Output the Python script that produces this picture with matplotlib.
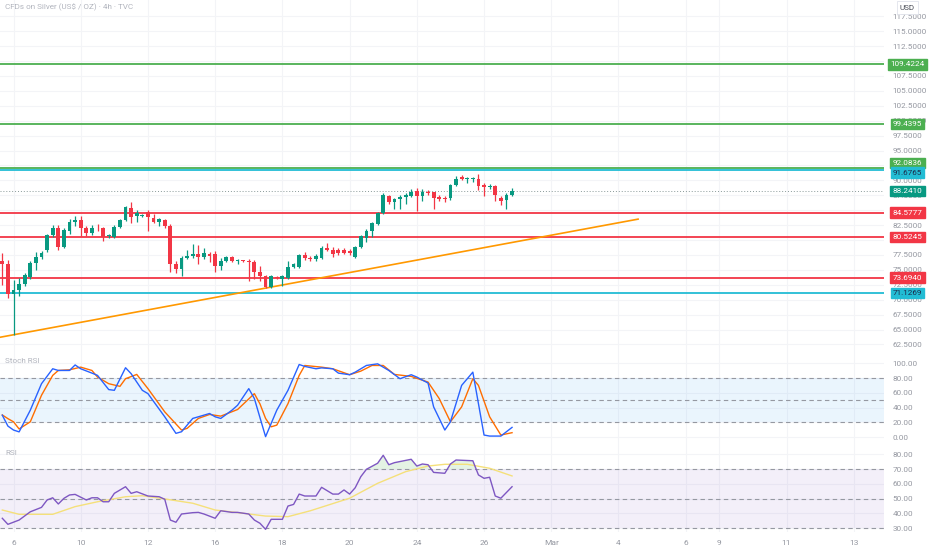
import matplotlib
matplotlib.use("Agg")
import matplotlib.pyplot as plt
import numpy as np

# 4h candles, bar index 0 = first visible bar
opens = [76.4, 76.0, 70.9, 71.6, 72.6, 73.8, 76.1, 77.2, 78.3, 80.8,
         82.0, 78.9, 81.5, 83.0, 83.3, 82.0, 81.2, 82.2, 82.0, 80.6,
         80.5, 82.2, 83.4, 85.4, 84.1, 84.1, 84.7, 83.7, 83.0, 83.3,
         82.4, 76.0, 75.2, 77.0, 77.3, 77.6, 77.2, 77.7, 77.7, 75.6,
         76.5, 77.1, 76.5, 76.6, 76.5, 76.3, 74.6, 74.0, 72.2, 73.8,
         73.4, 73.6, 75.5, 75.5, 77.5, 77.0, 76.8, 77.0, 78.7, 78.4,
         78.3, 78.3, 78.2, 77.2, 78.8, 80.3, 81.5, 82.7, 84.5, 87.4,
         86.3, 86.8, 87.2, 87.4, 88.2, 87.3, 88.0, 88.0, 87.2, 87.1,
         87.0, 89.2, 90.5, 90.3, 90.3, 90.3, 89.2, 88.9, 89.1, 87.0,
         86.7, 87.6]
highs = [77.8, 76.7, 73.3, 73.6, 74.5, 76.4, 78.0, 78.1, 81.0, 82.6,
         82.5, 82.0, 83.6, 84.0, 84.0, 82.3, 82.6, 82.7, 82.2, 81.0,
         82.6, 83.6, 85.7, 86.3, 85.0, 84.4, 85.0, 84.3, 83.7, 83.6,
         82.7, 76.5, 77.4, 78.3, 79.3, 79.1, 78.6, 78.0, 78.1, 77.0,
         77.4, 77.3, 76.9, 76.7, 76.8, 76.7, 75.6, 74.2, 74.2, 74.0,
         74.1, 76.4, 76.2, 77.7, 78.0, 77.3, 77.7, 79.0, 79.5, 78.8,
         78.7, 78.6, 78.5, 79.0, 80.9, 81.8, 83.0, 84.7, 87.8, 87.6,
         87.0, 87.5, 87.9, 88.6, 88.7, 88.5, 88.3, 88.1, 87.6, 87.3,
         89.4, 90.8, 90.9, 90.6, 90.6, 91.0, 89.6, 89.4, 89.3, 87.4,
         87.8, 88.8]
lows = [72.5, 70.3, 64.0, 70.6, 72.3, 73.4, 75.0, 76.9, 78.0, 80.5,
        78.4, 78.6, 81.0, 82.4, 80.6, 80.6, 80.9, 81.5, 79.9, 80.4,
        80.4, 82.0, 83.2, 82.9, 83.1, 83.9, 81.5, 82.8, 82.4, 82.0,
        74.7, 74.5, 74.0, 76.8, 77.0, 76.0, 76.9, 76.3, 74.6, 74.9,
        76.3, 76.3, 75.9, 76.3, 73.1, 73.4, 73.2, 71.9, 72.0, 73.4,
        72.3, 73.4, 75.3, 75.3, 76.6, 76.4, 76.4, 76.8, 78.1, 77.2,
        77.5, 77.6, 77.5, 77.0, 78.6, 79.7, 80.5, 82.5, 84.3, 86.1,
        85.2, 85.2, 86.1, 87.2, 84.8, 86.5, 87.5, 85.2, 86.5, 86.3,
        86.7, 89.0, 90.1, 89.5, 89.7, 88.3, 87.4, 88.6, 86.6, 85.9,
        85.2, 87.4]
closes = [76.0, 70.9, 71.6, 72.6, 74.1, 76.1, 77.2, 77.8, 80.8, 82.0,
          78.8, 81.7, 83.0, 83.3, 82.0, 81.2, 82.0, 82.1, 80.5, 80.8,
          82.2, 83.4, 85.5, 83.9, 84.6, 84.2, 83.9, 83.0, 83.5, 82.4,
          76.0, 75.2, 77.0, 77.4, 77.7, 77.2, 77.8, 77.3, 75.7, 76.5,
          77.2, 76.5, 76.7, 76.4, 76.3, 74.6, 73.9, 72.2, 73.9, 73.6,
          73.9, 75.5, 75.9, 77.5, 77.0, 76.8, 77.4, 78.7, 78.3, 77.7,
          77.8, 77.9, 77.8, 78.8, 80.7, 81.5, 82.8, 84.5, 87.5, 86.3,
          86.8, 87.2, 87.6, 88.1, 87.3, 88.0, 87.8, 87.0, 86.9, 86.8,
          89.2, 90.3, 90.3, 90.4, 90.4, 89.0, 88.9, 89.1, 87.5, 86.6,
          87.6, 88.241]

# horizontal levels
green_levels = [109.4224, 99.4395, 92.0836]
cyan_levels = [91.6765, 71.1269]
red_levels = [84.5777, 80.5245, 73.6940]
last_price = 88.2410

# trend line anchors (bar index, price)
trend_x = [-0.4, 113.5]
trend_y = [63.7, 83.5]

# Stoch RSI %K and %D (bar index, value)
k_bars = [0, 1, 2, 3, 5, 7, 9, 10, 12, 13, 14, 16, 17, 19, 20, 22, 23, 25, 26, 29,
          31, 32, 34, 35, 37, 38, 39, 41, 42, 44, 45, 47, 49, 51, 53, 54, 56, 57, 59,
          60, 62, 63, 65, 67, 69, 71, 73, 74, 76, 77, 79, 80, 82, 84, 86, 87, 89, 91]
k_vals = [29.7, 14.9, 9.5, 7.0, 36.5, 72.5, 92.8, 90.5, 90.5, 98.0, 92.8, 86.9, 83.8,
          64.5, 63.5, 94.2, 86.1, 63.5, 59.0, 27.5, 5.0, 7.2, 25.3, 27.5, 32.0, 27.5,
          25.3, 36.5, 43.2, 65.8, 52.3, 0.5, 36.5, 63.5, 98.6, 96.0, 92.8, 94.0, 92.8,
          86.9, 84.7, 88.2, 97.3, 99.5, 90.5, 79.3, 84.7, 81.5, 73.4, 41.0, 9.5, 20.7,
          70.2, 88.2, 2.7, 1.3, 1.3, 13.1]
d_bars = [0, 1, 2, 3, 5, 7, 9, 10, 12, 14, 16, 17, 19, 21, 22, 24, 26, 29, 32, 33,
          35, 37, 39, 42, 45, 46, 47, 48, 49, 51, 53, 54, 57, 59, 62, 64, 66, 68, 70,
          73, 76, 78, 80, 82, 84, 85, 87, 89, 91]
d_vals = [30.0, 25.0, 20.7, 11.0, 20.7, 56.8, 83.8, 90.5, 91.4, 95.0, 90.5, 81.5,
          72.5, 68.9, 79.3, 85.1, 65.8, 34.2, 9.5, 11.8, 25.3, 30.7, 28.4, 37.4, 59.0,
          45.0, 25.3, 13.9, 16.2, 45.4, 83.8, 97.3, 95.0, 92.8, 84.7, 89.6, 97.3, 97.3,
          85.1, 82.4, 74.7, 52.3, 20.7, 41.0, 79.3, 70.2, 27.5, 2.7, 5.9]

# RSI and its moving average (bar index, value)
rsi_bars = [0, 1, 3, 5, 7, 8, 9, 10, 11, 12, 13, 15, 16, 17, 18, 19, 20, 22, 23, 24,
            26, 28, 29, 30, 31, 32, 34, 35, 36, 38, 39, 41, 42, 44, 45, 46, 47, 48, 50,
            51, 52, 53, 54, 56, 57, 59, 60, 61, 62, 63, 64, 65, 67, 68, 69, 70, 73, 74,
            75, 76, 77, 79, 80, 81, 84, 85, 86, 87, 88, 89, 91]
rsi_vals = [36.6, 32.5, 35.4, 41.0, 44.0, 49.0, 50.5, 46.3, 50.1, 52.4, 52.8, 49.0,
            50.5, 50.5, 47.8, 47.8, 53.5, 58.0, 53.5, 54.6, 51.7, 51.2, 49.5, 35.4,
            33.9, 39.5, 40.4, 40.6, 39.5, 36.6, 41.7, 40.6, 40.6, 39.5, 35.4, 33.2,
            29.1, 35.9, 35.9, 44.9, 46.0, 53.0, 51.7, 51.7, 57.6, 53.0, 53.0, 55.8,
            53.0, 57.3, 64.8, 69.8, 73.9, 79.3, 72.9, 74.3, 76.6, 72.0, 73.4, 72.9,
            67.7, 67.1, 73.4, 76.1, 75.6, 66.0, 63.7, 64.4, 51.7, 50.2, 58.0]
ma_bars = [0, 3, 9, 13, 17, 22, 25, 29, 34, 38, 43, 47, 51, 55, 62, 67, 72, 76, 79,
           83, 87, 91]
ma_vals = [42.2, 39.3, 39.3, 44.5, 47.8, 51.2, 51.9, 49.7, 46.8, 42.2, 40.0, 38.1,
           37.7, 41.7, 50.2, 60.3, 68.2, 72.0, 73.2, 73.2, 70.5, 65.3]

# date labels on the time axis
day_bars = [2, 14, 26, 38, 50, 62, 74, 86, 98, 110, 122, 128, 140, 152]
day_labels = ['6', '10', '12', '16', '18', '20', '24', '26', 'Mar', '4', '6', '9', '11', '13']

up_col = '#089981'
dn_col = '#f23645'
txt_col = '#9598a1'
grid_col = '#f3f4f7'

plt.rcParams['font.family'] = ['Roboto', 'DejaVu Sans']

fig = plt.figure(figsize=(9.32, 5.5), dpi=100)
W = 884 / 932
ax = fig.add_axes([0, 1 - 352 / 550, W, 352 / 550])
ax2 = fig.add_axes([0, 1 - 446 / 550, W, 94 / 550])
ax3 = fig.add_axes([0, 1 - 532 / 550, W, 86 / 550])

xl = (-0.41, 157.4)
for a in (ax, ax2, ax3):
    a.set_xlim(*xl)
    for s in a.spines.values():
        s.set_visible(False)
    a.yaxis.tick_right()
    a.tick_params(axis='y', length=0, pad=6, labelsize=5.9, labelcolor=txt_col)
    a.tick_params(axis='x', length=0)
    a.set_xticks(day_bars)
    a.grid(True, color=grid_col, linewidth=0.8)
    a.set_axisbelow(True)
ax.set_xticklabels([])
ax2.set_xticklabels([])
ax3.set_xticklabels(day_labels)
ax3.tick_params(axis='x', labelsize=6, labelcolor=txt_col, pad=6)

# --- price panel ---
ax.set_ylim(61.23, 120.23)
pt = np.arange(62.5, 118, 2.5)
ax.set_yticks(pt)
# labels fully hidden behind price tags are left empty
hidden = (92.5, 85.0, 80.0)
ax.set_yticklabels(['' if v in hidden else '%.4f' % v for v in pt])

idx = np.arange(len(closes))
o = np.array(opens); c = np.array(closes)
cols = [up_col if cc >= oo else dn_col for oo, cc in zip(o, c)]
ax.vlines(idx, lows, highs, colors=cols, linewidth=0.9, zorder=4)
body = np.maximum(np.abs(c - o), 0.15)
ax.bar(idx, body, bottom=np.minimum(o, c), width=0.68, color=cols, zorder=5)

for lv in green_levels:
    ax.axhline(lv, color='#4caf50', linewidth=1.3, zorder=3)
for lv in cyan_levels:
    ax.axhline(lv, color='#22bcd4', linewidth=1.3, zorder=3)
for lv in red_levels:
    ax.axhline(lv, color='#f23645', linewidth=1.3, zorder=3)
ax.axhline(last_price, color='#8a9a99', linewidth=0.7, linestyle=(0, (1, 2)), zorder=3)
ax.plot(trend_x, trend_y, color='#ff9800', linewidth=1.2, zorder=3)


def price_tag(v, face, tc='white', dy=0):
    ax.annotate('%.4f' % v, xy=(1.0266, v), xycoords=('axes fraction', 'data'),
                xytext=(0, dy), textcoords='offset points',
                ha='center', va='center', fontsize=5.9, color=tc, annotation_clip=False,
                zorder=10, bbox=dict(boxstyle='square,pad=0.28', fc=face, ec=face))


price_tag(green_levels[0], '#4caf50')
price_tag(green_levels[1], '#4caf50')
price_tag(green_levels[2], '#4caf50', dy=3.6)
for lv in red_levels:
    price_tag(lv, '#f23645')
price_tag(cyan_levels[0], '#22bcd4', '#1c2a4a', dy=-1.6)
price_tag(cyan_levels[1], '#22bcd4', '#1c2a4a')
price_tag(last_price, up_col)

ax.text(1.0266, 0.978, 'USD', transform=ax.transAxes, ha='center', va='center',
        fontsize=5.9, color='#4a4d57', zorder=10,
        bbox=dict(boxstyle='square,pad=0.4', fc='white', ec='#e0e3eb', lw=0.6))
ax.text(0.006, 0.98, 'CFDs on Silver (US$ / OZ) · 4h · TVC', transform=ax.transAxes,
        ha='left', va='center', fontsize=5.9, color='#b2b5be')

# --- Stoch RSI panel ---
ax2.set_ylim(-12.2, 115.6)
ax2.set_yticks([0, 20, 40, 60, 80, 100])
ax2.set_yticklabels(['%.2f' % v for v in [0, 20, 40, 60, 80, 100]])
ax2.axhspan(20, 80, color='#2196f3', alpha=0.09, linewidth=0)
for lv in (20, 50, 80):
    ax2.axhline(lv, color='#9598a1', linewidth=0.8, linestyle=(0, (4, 3)))
ax2.plot(d_bars, d_vals, color='#ff6d00', linewidth=1.0)
ax2.plot(k_bars, k_vals, color='#2962ff', linewidth=1.0)
ax2.text(0.006, 0.9, 'Stoch RSI', transform=ax2.transAxes, ha='left', va='center',
         fontsize=5.9, color='#b2b5be')

# --- RSI panel ---
ax3.set_ylim(27.3, 85.6)
rt = [30, 40, 50, 60, 70, 80]
ax3.set_yticks(rt)
ax3.set_yticklabels(['%.2f' % v for v in rt])
ax3.axhspan(30, 70, color='#7e57c2', alpha=0.09, linewidth=0)
for lv in (30, 50, 70):
    ax3.axhline(lv, color='#9598a1', linewidth=0.8, linestyle=(0, (4, 3)))
rb = np.array(rsi_bars); rv = np.array(rsi_vals)
ax3.fill_between(rb, 70, rv, where=rv > 70, interpolate=True, color='#4caf50',
                 alpha=0.15, linewidth=0)
ax3.plot(ma_bars, ma_vals, color='#f5e07a', linewidth=1.0)
ax3.plot(rsi_bars, rsi_vals, color='#7e57c2', linewidth=1.0)
ax3.text(0.006, 0.92, 'RSI', transform=ax3.transAxes, ha='left', va='center',
         fontsize=5.9, color='#b2b5be')

fig.savefig('out.png', dpi=100)
